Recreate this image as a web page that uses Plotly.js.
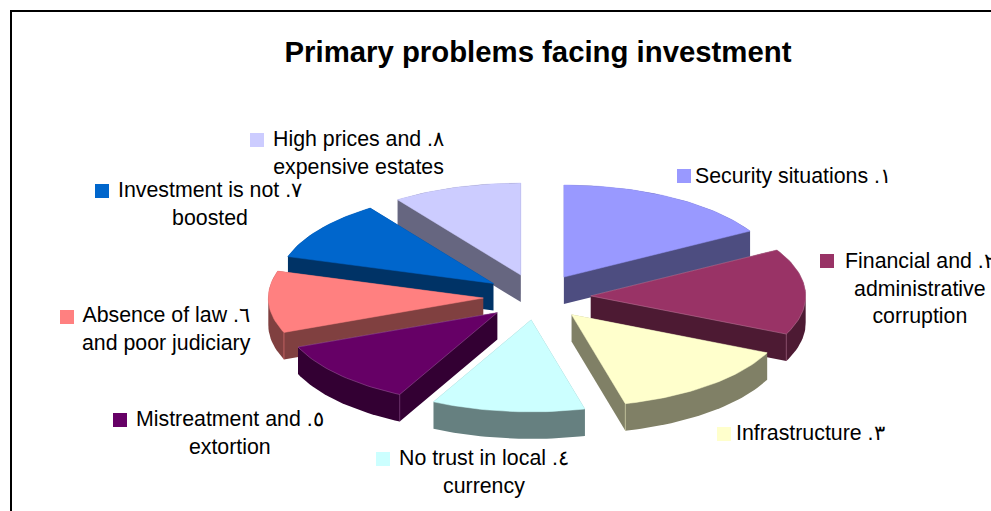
<!DOCTYPE html>
<html>
<head>
<meta charset="utf-8">
<script src="https://cdn.plot.ly/plotly-3.0.1.min.js"></script>
<style>html,body{margin:0;padding:0;background:#fff;overflow:hidden}</style>
</head>
<body>
<div id="chart" style="width:991px;height:511px"></div>
<script>
// ---- data ----
const chartTitle = "Primary problems facing investment";
const categories = [
  "Security situations .١",
  "Financial and .٢<br>administrative<br>corruption",
  "Infrastructure .٣",
  "No trust in local .٤<br>currency",
  "Mistreatment and .٥<br>extortion",
  "Absence of law .٦<br>and poor judiciary",
  "Investment is not .٧<br>boosted",
  "High prices and .٨<br>expensive estates"
];
const values = [16.67, 15.14, 14.17, 11.53, 11.39, 10.83, 10.56, 9.72];

// ---- styles ----
const topColors  = ["#9999FF","#993366","#FFFFCC","#CCFFFF","#660066","#FF8080","#0066CC","#CCCCFF"];
const sideColors = ["#4D4D80","#4D1A33","#808066","#668080","#330033","#804040","#003366","#666680"];
const edgeColors = ["#9999FF","#C080A0","#FFFFCC","#CCFFFF","#A060A0","#FF8080","#0066CC","#CCCCFF"];
const drawOrder = [0,7,6,1,5,2,4,3];
// front corner of a slice that shows a thin seam: "end" or "start" of its arc
const seams = {1:"end",2:"end",4:"start",5:"start"};

// ---- layout constants (screen-pixel axes) ----
const W = 991, H = 511;
const cx = 537, cy = 297, rx = 215, ry = 92, pull = 0.25, depth = 27;
const labelCentres = [[793,176],[920,288],[810,433],[484,472],[230,433],[166,329],[210,204],[358,153]];
const swatchCentres = [[684,176],[827,261],[724,434],[383,459],[120,420],[67,317],[102,191],[257,140]];
const fontStack = "Liberation Sans, Arial, sans-serif";

function hull(pts){
  const p = pts.slice().sort((a,b)=>a[0]-b[0]||a[1]-b[1]);
  const cross=(o,a,b)=>(a[0]-o[0])*(b[1]-o[1])-(a[1]-o[1])*(b[0]-o[0]);
  const lo=[],up=[];
  for(const q of p){while(lo.length>1&&cross(lo[lo.length-2],lo[lo.length-1],q)<=0)lo.pop();lo.push(q);}
  for(const q of p.slice().reverse()){while(up.length>1&&cross(up[up.length-2],up[up.length-1],q)<=0)up.pop();up.push(q);}
  return lo.slice(0,-1).concat(up.slice(0,-1));
}

const total = values.reduce((a,b)=>a+b,0);
let acc = 0;
const slices = values.map(v=>{
  const a0 = acc/total*2*Math.PI; acc += v;
  const a1 = acc/total*2*Math.PI;
  const mid = (a0+a1)/2;
  const ax = cx + rx*pull*Math.sin(mid), ay = cy - ry*pull*Math.cos(mid);
  const pts = [[ax,ay]];
  const n = Math.max(4,Math.ceil((a1-a0)/(Math.PI/120)));
  for(let i=0;i<=n;i++){
    const t = a0+(a1-a0)*i/n;
    pts.push([ax+rx*Math.sin(t), ay-ry*Math.cos(t)]);
  }
  return pts;
});

const traces = [];
drawOrder.forEach(i=>{
  const top = slices[i];
  const side = hull(top.concat(top.map(p=>[p[0],p[1]+depth])));
  side.push(side[0]);
  traces.push({type:"scatter",mode:"lines",x:side.map(p=>p[0]),y:side.map(p=>p[1]),
    fill:"toself",fillcolor:sideColors[i],line:{width:0,color:sideColors[i]},hoverinfo:"skip",showlegend:false});
  const t = top.concat([top[0]]);
  traces.push({type:"scatter",mode:"lines",x:t.map(p=>p[0]),y:t.map(p=>p[1]),name:categories[i],
    fill:"toself",fillcolor:topColors[i],line:{width:0.5,color:edgeColors[i]},hoverinfo:"skip",showlegend:false});
  if(seams[i]){
    const c = seams[i]==="end" ? top[top.length-1] : top[1];
    traces.push({type:"scatter",mode:"lines",x:[c[0],c[0]],y:[c[1],c[1]+depth],
      line:{width:0.5,color:edgeColors[i]},hoverinfo:"skip",showlegend:false});
  }
});
traces.push({type:"scatter",mode:"markers",x:swatchCentres.map(p=>p[0]),y:swatchCentres.map(p=>p[1]),
  marker:{symbol:"square",size:14,color:topColors,line:{width:0}},hoverinfo:"skip",showlegend:false});

const annotations = categories.map((c,i)=>({
  x:labelCentres[i][0],y:labelCentres[i][1],xref:"x",yref:"y",text:c,showarrow:false,
  xanchor:"center",yanchor:"middle",align:"center",
  font:{family:fontStack,size:21.33,color:"#000"}
}));

const layout = {
  width:W,height:H,autosize:false,margin:{l:0,r:0,t:0,b:0,pad:0},
  paper_bgcolor:"#fff",plot_bgcolor:"#fff",showlegend:false,
  title:{text:"<b>"+chartTitle+"</b>",x:538/W,xanchor:"center",y:1-52/H,yanchor:"middle",
    font:{family:fontStack,size:29.33,color:"#000"}},
  xaxis:{range:[0,W],visible:false,fixedrange:true},
  yaxis:{range:[H,0],visible:false,fixedrange:true},
  annotations,
  shapes:[{type:"rect",xref:"x",yref:"y",x0:11,y0:11,x1:W+20,y1:H+20,line:{color:"#000",width:2},fillcolor:"rgba(0,0,0,0)",layer:"below"}]
};
Plotly.newPlot("chart",traces,layout,{displayModeBar:false,staticPlot:true});
</script>
</body>
</html>
